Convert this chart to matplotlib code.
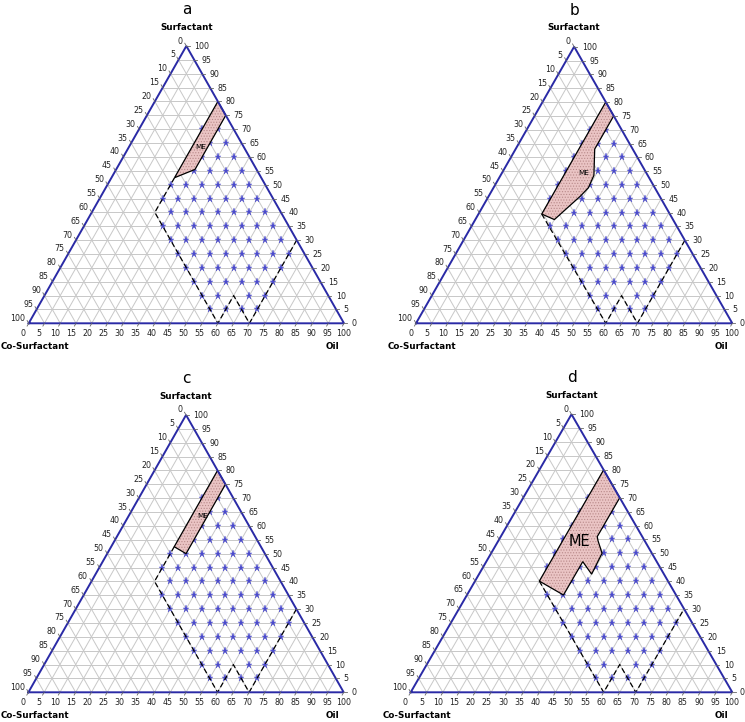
"""Four ternary phase diagrams (surfactant / co-surfactant / oil) with ME regions."""

import matplotlib
matplotlib.use("Agg")
import matplotlib.pyplot as plt
from matplotlib.patches import Polygon
from matplotlib.transforms import offset_copy


W, H = 745, 722
STEPS = list(range(5, 100, 5))
TICK_VALUES = list(range(0, 101, 5))

PANELS = ["a", "b", "c", "d"]

# Stars: one row per surfactant level, oil percentages of the points in that row.
COMMON_ROWS = [
    (5, [55, 60, 65, 70]),
    (10, [50, 55, 65, 70]),
    (15, [45, 50, 55, 60, 65, 70]),
    (20, [40, 45, 50, 55, 60, 65, 70]),
    (25, [35, 40, 45, 50, 55, 60, 65, 70]),
    (30, [30, 35, 40, 45, 50, 55, 60, 65]),
    (35, [25, 30, 35, 40, 45, 50, 55, 60]),
]
A_ROWS = [
    (40, [25, 30, 35, 40, 45, 50, 55]),
    (45, [20, 25, 30, 35, 40, 45, 50]),
    (50, [20, 25, 30, 35, 40, 45]),
    (55, [25, 30, 35, 40]),
    (60, [25, 30, 35]),
    (65, [25, 30]),
    (70, [20, 25]),
]
B_ROWS = [
    (40, [25, 30, 35, 40, 45, 50, 55]),
    (45, [20, 25, 30, 35, 40, 45, 50]),
    (50, [20, 30, 35, 40, 45]),
    (55, [20, 30, 35, 40]),
    (60, [20, 30, 35]),
    (65, [20, 25, 30]),
    (70, [20, 25]),
]
C_ROWS = [
    (40, [25, 30, 35, 40, 45, 50, 55]),
    (45, [20, 25, 30, 35, 40, 45, 50]),
    (50, [20, 25, 30, 35, 40, 45]),
    (55, [25, 30, 35, 40]),
    (60, [25, 30, 35]),
    (65, [25, 30]),
    (70, [20, 25]),
]
D_ROWS = [
    (40, [30, 35, 40, 45, 50, 55]),
    (45, [20, 30, 35, 40, 45, 50]),
    (50, [20, 35, 40, 45]),
    (55, [20, 35, 40]),
    (60, [20, 30, 35]),
    (65, [20, 30]),
    (70, [20]),
]

# Dashed boundaries, (oil %, surfactant %)
A_DASHED = [(20, 52.5), (20, 40), (60, 0), (60, 10), (70, 0), (70, 30)]
B_DASHED = [(20, 39.5), (60, 0), (60, 10), (70, 0), (70, 30)]
C_DASHED = [(20, 52.5), (20, 40), (60, 0), (60, 10), (70, 0), (70, 30)]
D_DASHED = [(20, 40), (60, 0), (60, 10), (70, 0), (70, 30)]

# Microemulsion regions, (oil %, surfactant %)
A_ME = [(20, 80), (25, 75), (25, 55.5), (20, 52.5)]
B_ME = [(20, 80), (25, 75), (25, 63), (29.5, 53.5), (30, 49), (29, 46),
        (25, 37.5), (20, 39.5)]
C_ME = [(20, 80), (25, 75), (25, 50), (20, 52.5)]
D_ME = [(20, 80), (30, 70), (30, 56), (31, 54.5), (34.5, 50), (35, 42.5),
        (30, 47), (30, 35), (20, 40)]

ME_LABEL_POS = {"a": (22.6, 63.7), "b": (25.7, 54.4), "c": (23.6, 63.6), "d": (25.5, 54.2)}

# Pixel geometry of each triangle: base-left x, base-right x, base y, apex y
PANEL_PX = {
    "a": (28.7, 344.0, 323.3, 46.0),
    "b": (416.0, 732.3, 323.3, 46.7),
    "c": (28.4, 343.7, 692.3, 415.0),
    "d": (410.7, 732.3, 692.3, 414.3),
}

EDGE = "#2a2aa6"
STAR = "#4a4acc"
GRID_C = "#c8c8c8"
XL = (-14, 114)
YL = (-14, 118)


def xy(oil, s):
    return oil + s / 2.0, s


def draw_panel(fig, name, rows, dashed, me):
    x0, x1, yb, yt = PANEL_PX[name]
    sx = (x1 - x0) / 100.0
    sy = (yb - yt) / 100.0
    left = x0 + XL[0] * sx
    right = x0 + XL[1] * sx
    top = yb - YL[1] * sy
    bot = yb - YL[0] * sy
    ax = fig.add_axes([left / W, 1 - bot / H, (right - left) / W, (bot - top) / H])
    ax.set_xlim(*XL)
    ax.set_ylim(*YL)
    ax.axis("off")
    ax.patch.set_alpha(0)

    # grid every 5 %
    for k in STEPS:
        ax.plot([k / 2, 100 - k / 2], [k, k], color=GRID_C, lw=0.7, zorder=1)
        ax.plot([k, k + (100 - k) / 2], [0, 100 - k], color=GRID_C, lw=0.7, zorder=1)
        ax.plot([100 - k, (100 - k) / 2], [0, 100 - k], color=GRID_C, lw=0.7, zorder=1)

    # stars
    pts = [xy(o, s) for s, oils in COMMON_ROWS + rows for o in oils]
    ax.plot([p[0] for p in pts], [p[1] for p in pts], ls="none", marker="*",
            ms=5.2, color=STAR, mew=0.3, zorder=2)

    # ME region
    me_xy = [xy(o, s) for o, s in me]
    ax.add_patch(Polygon(me_xy, closed=True, facecolor="#eac4c4", edgecolor="#b98a8a",
                         hatch="......", lw=0, zorder=3))
    ax.add_patch(Polygon(me_xy, closed=True, fill=False, edgecolor="black",
                         lw=0.9, zorder=4))
    mx, my = xy(*ME_LABEL_POS[name])
    if name == "d":
        ax.text(mx, my, "ME", fontsize=10.5, ha="center", va="center", zorder=6)
    else:
        ax.text(mx, my, "ME", fontsize=5.2, ha="center", va="center", zorder=6)

    # dashed boundary
    d_xy = [xy(o, s) for o, s in dashed]
    ax.plot([p[0] for p in d_xy], [p[1] for p in d_xy], color="black", lw=0.9,
            ls=(0, (4.2, 2.4)), zorder=4)

    # triangle
    ax.plot([0, 100, 50, 0], [0, 0, 100, 0], color=EDGE, lw=1.4, zorder=5,
            solid_joinstyle="miter")

    # ticks and tick labels
    for v in TICK_VALUES:
        # bottom axis
        ax.plot([v, v - 0.5], [0, -1.0], color="#666666", lw=0.6, zorder=5)
        tr = offset_copy(ax.transData, fig=fig, x=-5.4 + 0.05 * v, y=-10, units="dots")
        ax.text(v, 0, str(v), transform=tr, fontsize=5.7, ha="center", va="center",
                color="#222222")
        # right axis (surfactant, 0 at bottom)
        rx, ry = 100 - v / 2, v
        ax.plot([rx, rx + 1.0], [ry, ry], color="#666666", lw=0.6, zorder=5)
        tr = offset_copy(ax.transData, fig=fig, x=7.5, y=-0.5, units="dots")
        ax.text(rx, ry, str(v), transform=tr, fontsize=5.7, ha="left", va="center",
                color="#222222")
        # left axis (co-surfactant, 0 at top)
        s = 100 - v
        lx, ly = s / 2, s
        ax.plot([lx, lx - 0.5], [ly, ly + 1.0], color="#666666", lw=0.6, zorder=5)
        tr = offset_copy(ax.transData, fig=fig, x=-3.5, y=5, units="dots")
        ax.text(lx, ly, str(v), transform=tr, fontsize=5.7, ha="right", va="center",
                color="#222222")

    ax.text(50, 113.2, name, fontsize=11, ha="center", va="center")
    ax.text(50, 106.8, "Surfactant", fontsize=6.3, fontweight="bold",
            ha="center", va="center")
    ax.text(2.0, -8.4, "Co-Surfactant", fontsize=6.3, fontweight="bold",
            ha="center", va="center")
    ax.text(96.5, -8.4, "Oil", fontsize=6.3, fontweight="bold",
            ha="center", va="center")
    return ax


def main():
    plt.rcParams["hatch.linewidth"] = 0.5
    fig = plt.figure(figsize=(W / 100, H / 100), dpi=100)
    fig.patch.set_facecolor("white")

    draw_panel(fig, "a", A_ROWS, A_DASHED, A_ME)
    draw_panel(fig, "b", B_ROWS, B_DASHED, B_ME)
    draw_panel(fig, "c", C_ROWS, C_DASHED, C_ME)
    draw_panel(fig, "d", D_ROWS, D_DASHED, D_ME)

    fig.savefig("out.png", dpi=100)
    plt.close(fig)


if __name__ == "__main__":
    main()
